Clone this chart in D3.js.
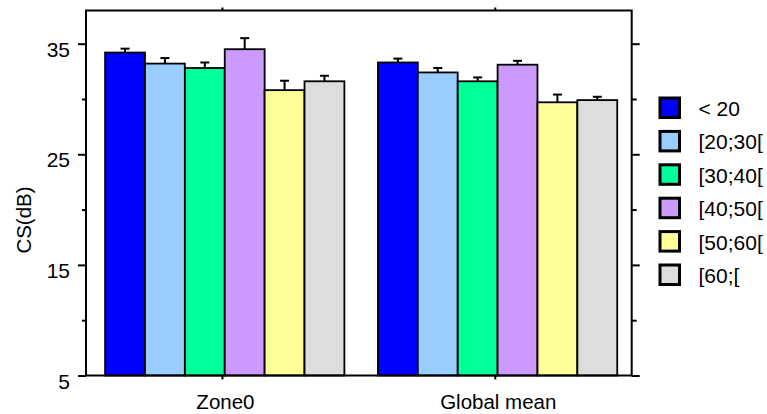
<!DOCTYPE html>
<html>
<head>
<meta charset="utf-8">
<script src="https://cdn.jsdelivr.net/npm/d3@7"></script>
<style>
  html, body { margin: 0; padding: 0; background: #fff; }
  svg { display: block; font-family: "Liberation Sans", Arial, sans-serif; }
</style>
</head>
<body>
<svg id="chart" width="767" height="414"></svg>
<script>
// Contrast sensitivity by age group
const categories = ["Zone0", "Global mean"];
const ageGroups = ["< 20", "[20;30[", "[30;40[", "[40;50[", "[50;60[", "[60;["];
const colors = ["#0000FF", "#99CCFF", "#00FF99", "#CC99FF", "#FFFF99", "#DDDDDD"];
const zone0Means = [34.2, 33.2, 32.8, 34.5, 30.8, 31.6];
const zone0Errors = [0.35, 0.5, 0.5, 1.0, 0.85, 0.5];
const globalMeans = [33.3, 32.4, 31.6, 33.1, 29.7, 29.9];
const globalErrors = [0.35, 0.4, 0.35, 0.35, 0.7, 0.3];
const majorTicks = [5, 15, 25, 35];
const minorTicks = [10, 20, 30];
const yLabel = "CS(dB)";

const meansByCategory = [zone0Means, globalMeans];
const errorsByCategory = [zone0Errors, globalErrors];

const svg = d3.select("#chart");
const plotLeft = 86, plotRight = 631.7, plotTop = 10.5, plotBottom = 375.5;

const x0 = d3.scaleBand().domain(categories).range([plotLeft, plotRight]).padding(0);
const bw = x0.bandwidth();
const x1 = d3.scaleBand().domain(ageGroups).range([bw * 0.07, bw * 0.947]).padding(0);
const y = d3.scaleLinear().domain([5, 38]).range([plotBottom, plotTop]);

// bars
const groups = svg.append("g").selectAll("g")
  .data(categories)
  .join("g")
  .attr("transform", d => `translate(${x0(d)},0)`);

groups.each(function(cat, ci) {
  const g = d3.select(this);
  const rows = ageGroups.map((a, i) => ({ a, i, v: meansByCategory[ci][i], e: errorsByCategory[ci][i] }));
  // error bars (upper only) drawn beneath bars
  const eb = g.selectAll("g.err").data(rows).join("g").attr("class", "err");
  eb.append("line")
    .attr("x1", d => x1(d.a) + x1.bandwidth() / 2)
    .attr("x2", d => x1(d.a) + x1.bandwidth() / 2)
    .attr("y1", d => y(d.v))
    .attr("y2", d => y(d.v + d.e))
    .attr("stroke", "#000").attr("stroke-width", 2);
  eb.append("line")
    .attr("x1", d => x1(d.a) + x1.bandwidth() / 2 - 4.5)
    .attr("x2", d => x1(d.a) + x1.bandwidth() / 2 + 4.5)
    .attr("y1", d => y(d.v + d.e))
    .attr("y2", d => y(d.v + d.e))
    .attr("stroke", "#000").attr("stroke-width", 2);
  g.selectAll("rect").data(rows).join("rect")
    .attr("x", d => x1(d.a))
    .attr("width", x1.bandwidth())
    .attr("y", d => y(d.v))
    .attr("height", d => y(5) - y(d.v))
    .attr("fill", d => colors[d.i])
    .attr("stroke", "#000")
    .attr("stroke-width", 1.8);
});

// axes
function styleAxis(g) {
  g.select(".domain").remove();
  g.selectAll(".tick line").attr("stroke", "#000").attr("stroke-width", 2);
  g.selectAll(".tick text").attr("fill", "#000").attr("font-size", 21);
}

svg.append("g")
  .attr("transform", `translate(${plotLeft},0)`)
  .call(d3.axisLeft(y).tickValues(majorTicks).tickSize(8).tickPadding(8).tickFormat(d3.format("d")))
  .call(styleAxis)
  .call(g => g.selectAll(".tick text").attr("dy", "0.6em"));

svg.append("g")
  .attr("transform", `translate(${plotLeft},0)`)
  .call(d3.axisLeft(y).tickValues(minorTicks).tickSize(4).tickFormat(""))
  .call(styleAxis);

svg.append("g")
  .attr("transform", `translate(${plotRight},0)`)
  .call(d3.axisRight(y).tickValues(majorTicks).tickSize(8).tickFormat(""))
  .call(styleAxis);

svg.append("g")
  .attr("transform", `translate(${plotRight},0)`)
  .call(d3.axisRight(y).tickValues(minorTicks).tickSize(5).tickFormat(""))
  .call(styleAxis);

svg.append("g")
  .attr("transform", `translate(0,${plotBottom})`)
  .call(d3.axisBottom(x0).tickSize(4).tickPadding(0))
  .call(styleAxis)
  .call(g => g.selectAll(".tick text").attr("y", 33).attr("dy", 0).attr("dx", 3).attr("font-size", 20.5));

svg.append("g")
  .attr("transform", `translate(0,${plotTop})`)
  .call(d3.axisTop(x0).tickSize(3).tickFormat(""))
  .call(styleAxis);

// frame
svg.append("rect")
  .attr("x", plotLeft).attr("y", plotTop)
  .attr("width", plotRight - plotLeft).attr("height", plotBottom - plotTop)
  .attr("fill", "none").attr("stroke", "#000").attr("stroke-width", 2);

// y axis title
svg.append("text")
  .attr("transform", `translate(31,220) rotate(-90)`)
  .attr("text-anchor", "middle")
  .attr("font-size", 20.5)
  .attr("fill", "#000")
  .text(yLabel);

// legend
const legend = svg.append("g").attr("transform", "translate(660,98)");
const items = legend.selectAll("g").data(ageGroups).join("g")
  .attr("transform", (d, i) => `translate(0,${i * 33.4})`);
items.append("rect")
  .attr("width", 19.5).attr("height", 19.5)
  .attr("fill", (d, i) => colors[i])
  .attr("stroke", "#000").attr("stroke-width", 3);
items.append("text")
  .attr("x", 38.5).attr("y", 18)
  .attr("font-size", 21)
  .attr("fill", "#000")
  .text(d => d);
</script>
</body>
</html>
